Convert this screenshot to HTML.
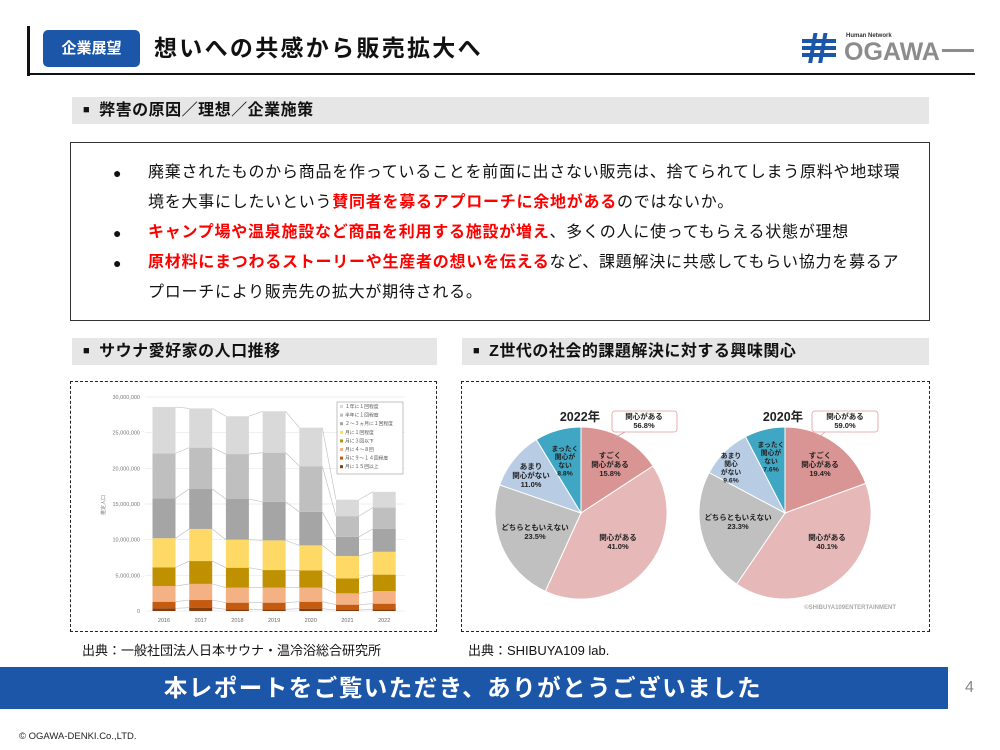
<!DOCTYPE html>
<html><head><meta charset="utf-8">
<style>
*{margin:0;padding:0;box-sizing:border-box}
body{width:1000px;height:750px;background:#fff;position:relative;overflow:hidden;font-family:"Liberation Sans","Noto Sans CJK JP",sans-serif;color:#111}
.abs{position:absolute}
.sec{position:absolute;background:#e6e6e6;height:27px;font-size:16px;font-weight:bold;line-height:27px;padding-left:11px;letter-spacing:0.5px}
.sec span{font-size:11px;margin-right:9px;vertical-align:2px}
.line{position:absolute;left:148px;font-size:16px;white-space:nowrap;letter-spacing:0.75px;line-height:20px}
.dot{position:absolute;left:113px;font-size:14px;line-height:20px}
.r{color:#ff0000;font-weight:bold}
</style></head><body>
<div class="abs" style="left:27px;top:26px;width:3px;height:50px;background:#111"></div>
<div class="abs" style="left:27px;top:73px;width:948px;height:2px;background:#111"></div>
<div class="abs" style="left:43px;top:30px;width:97px;height:37px;background:#1b56a8;border-radius:5px;color:#fff;font-weight:bold;font-size:15px;line-height:37px;text-align:center">企業展望</div>
<div class="abs" style="left:154px;top:33px;font-size:23px;font-weight:bold;letter-spacing:2.3px;line-height:30px">想いへの共感から販売拡大へ</div>
<!-- logo -->
<svg class="abs" style="left:800px;top:30px" width="178" height="34">
<g fill="#1b56a8">
<rect x="2" y="9" width="34" height="4"/><rect x="2" y="16" width="34" height="4"/><rect x="2" y="23" width="34" height="4"/>
<rect x="14" y="3" width="4" height="30" transform="skewX(-10)"/><rect x="24" y="3" width="4" height="30" transform="skewX(-10)"/>
</g>
<text x="46" y="7" font-size="6" font-family="Liberation Sans" font-weight="bold" fill="#333">Human Network</text>
<text x="44" y="30" font-size="25" font-family="Liberation Sans" font-weight="bold" fill="#8c8c8c" letter-spacing="0">OGAWA</text>
<rect x="142" y="19" width="32" height="3" fill="#8c8c8c"/>
</svg>

<div class="sec" style="left:72px;top:97px;width:857px"><span>■</span>弊害の原因／理想／企業施策</div>
<div class="abs" style="left:70px;top:142px;width:860px;height:179px;border:1px solid #333"></div>
<div class="dot" style="top:163px">●</div>
<div class="line" style="top:163px">廃棄されたものから商品を作っていることを前面に出さない販売は、捨てられてしまう原料や地球環</div>
<div class="line" style="top:193px">境を大事にしたいという<span class="r">賛同者を募るアプローチに余地がある</span>のではないか。</div>
<div class="dot" style="top:223px">●</div>
<div class="line" style="top:223px"><span class="r">キャンプ場や温泉施設など商品を利用する施設が増え</span>、多くの人に使ってもらえる状態が理想</div>
<div class="dot" style="top:253px">●</div>
<div class="line" style="top:253px"><span class="r">原材料にまつわるストーリーや生産者の想いを伝える</span>など、課題解決に共感してもらい協力を募るア</div>
<div class="line" style="top:283px">プローチにより販売先の拡大が期待される。</div>

<div class="sec" style="left:72px;top:338px;width:365px"><span>■</span>サウナ愛好家の人口推移</div>
<div class="sec" style="left:462px;top:338px;width:467px"><span>■</span>Z世代の社会的課題解決に対する興味関心</div>

<div class="abs" style="left:70px;top:381px;width:367px;height:251px;border:1px dashed #222"></div>
<div class="abs" style="left:461px;top:381px;width:469px;height:251px;border:1px dashed #222"></div>

<svg class="abs" style="left:0;top:0" width="1000" height="750" id="sv"></svg>

<div class="abs" style="left:82px;top:640px;font-size:13px">出典：一般社団法人日本サウナ・温冷浴総合研究所</div>
<div class="abs" style="left:468px;top:640px;font-size:13px">出典：SHIBUYA109 lab.</div>

<div class="abs" style="left:0;top:667px;width:948px;height:42px;background:#1b56a8;color:#fff;font-weight:bold;font-size:23.5px;line-height:42px;text-align:center;padding-right:22px;letter-spacing:1.5px">本レポートをご覧いただき、ありがとうございました</div>
<div class="abs" style="left:965px;top:679px;font-size:16px;color:#888">4</div>
<div class="abs" style="left:19px;top:731px;font-size:9.5px;color:#222">© OGAWA-DENKI.Co.,LTD.</div>

<script>
var sv=document.getElementById('sv'),h='';
var y0=611,px=(611-397)/30;
function Y(v){return y0-v*px}
for(var i=0;i<=6;i++){var y=Y(i*5);h+='<line x1="145" x2="405" y1="'+y+'" y2="'+y+'" stroke="#e6e6e6" stroke-width="0.7"/>';
h+='<text x="140" y="'+(y+2)+'" font-size="5.5" text-anchor="end" fill="#777" font-family="Liberation Sans">'+(i==0?'0':(i*5).toString()+',000,000')+'</text>';}
var d=[[0.37,1.3,3.5,6.1,10.2,15.8,22.1,28.6],[0.47,1.54,3.8,7.0,11.5,17.1,22.9,28.4],[0.23,1.17,3.27,6.07,10.0,15.7,22.0,27.3],[0.23,1.17,3.27,5.74,9.9,15.3,22.2,28.0],[0.33,1.3,3.27,5.7,9.2,13.9,20.3,25.7],[0.14,0.89,2.47,4.57,7.7,10.4,13.3,15.6],[0.23,1.03,2.8,5.1,8.3,11.5,14.5,16.7]];
var col=['#843c0c','#c55a11','#f4b183','#bf9000','#ffd966','#a5a5a5','#bfbfbf','#d9d9d9'];
var yrs=['2016','2017','2018','2019','2020','2021','2022'];
var bw=23;
for(var k=0;k<8;k++)for(var i=0;i<6;i++){var cx=164+i*36.7,nx=cx+36.7;h+='<line x1="'+(cx+bw/2)+'" y1="'+Y(d[i][k])+'" x2="'+(nx-bw/2)+'" y2="'+Y(d[i+1][k])+'" stroke="#bbb" stroke-width="0.6"/>';}
for(var i=0;i<7;i++){var cx=164+i*36.7,p=0;for(var k=0;k<8;k++){h+='<rect x="'+(cx-bw/2)+'" y="'+Y(d[i][k])+'" width="'+bw+'" height="'+(Y(p)-Y(d[i][k]))+'" fill="'+col[k]+'"/>';p=d[i][k];}
h+='<text x="'+cx+'" y="622" font-size="5.5" text-anchor="middle" fill="#666" font-family="Liberation Sans">'+yrs[i]+'</text>';}
h+='<text transform="translate(105,505) rotate(-90)" font-size="5" text-anchor="middle" fill="#777">推定人口</text>';
h+='<rect x="337" y="402" width="66" height="72" fill="#fff" stroke="#999" stroke-width="0.6"/>';
var lg=['１年に１回程度','半年に１回程度','２～３ヵ月に１回程度','月に１回程度','月に３回以下','月に４～８回','月に９～１４回程度','月に１５回以上'];
for(var k=0;k<8;k++){var y=408+k*8.6;h+='<rect x="340" y="'+(y-3)+'" width="3" height="3" fill="'+col[7-k]+'"/><text x="345" y="'+y+'" font-size="4.8" fill="#555">'+lg[k]+'</text>';}
var pc=['#d99594','#e6b8b7','#c0c0c0','#b8cce4','#3fa7c3'];
function pie(cx,cy,r,v){var a=0;for(var k=0;k<5;k++){var a2=a+v[k]/100*2*Math.PI;var x1=cx+r*Math.sin(a),y1=cy-r*Math.cos(a),x2=cx+r*Math.sin(a2),y2=cy-r*Math.cos(a2);
h+='<path d="M'+cx+','+cy+' L'+x1+','+y1+' A'+r+','+r+' 0 '+(a2-a>Math.PI?1:0)+' 1 '+x2+','+y2+' Z" fill="'+pc[k]+'" stroke="#fff" stroke-width="1"/>';a=a2;}}
pie(581,513,86,[15.8,41.0,23.5,11.0,8.7]);pie(785,513,86,[19.4,40.1,23.3,9.6,7.6]);
function t(x,y,lines,fs,c){for(var i=0;i<lines.length;i++)h+='<text x="'+x+'" y="'+(y+i*fs*1.2)+'" font-size="'+fs+'" text-anchor="middle" font-weight="bold" fill="'+(c||'#222')+'">'+lines[i]+'</text>';}
t(580,421,['2022年'],12.5);t(783,421,['2020年'],12.5);
h+='<rect x="612" y="411" width="65" height="21" rx="3" fill="#fff" stroke="#e39a9f" stroke-width="0.8"/><rect x="812" y="411" width="66" height="21" rx="3" fill="#fff" stroke="#e39a9f" stroke-width="0.8"/>';
h+='<line x1="625" y1="432" x2="614" y2="438" stroke="#e39a9f" stroke-width="0.8"/><line x1="825" y1="432" x2="818" y2="438" stroke="#e39a9f" stroke-width="0.8"/>';
t(644,419,['関心がある','56.8%'],7.5);t(845,419,['関心がある','59.0%'],7.5);
t(610,458,['すごく','関心がある','15.8%'],7.5);t(618,540,['関心がある','41.0%'],7.5);t(535,530,['どちらともいえない','23.5%'],7.5);
t(531,469,['あまり','関心がない','11.0%'],7.5);t(565,451,['まったく','関心が','ない','8.8%'],6.8);
t(820,458,['すごく','関心がある','19.4%'],7.5);t(827,540,['関心がある','40.1%'],7.5);t(738,520,['どちらともいえない','23.3%'],7.5);
t(731,458,['あまり','関心','がない','9.6%'],6.8);t(771,447,['まったく','関心が','ない','7.6%'],6.8);
h+='<text x="896" y="609" font-size="6" text-anchor="end" font-weight="bold" fill="#aaa" font-family="Liberation Sans">©SHIBUYA109ENTERTAINMENT</text>';
sv.innerHTML=h;
</script>
</body></html>
